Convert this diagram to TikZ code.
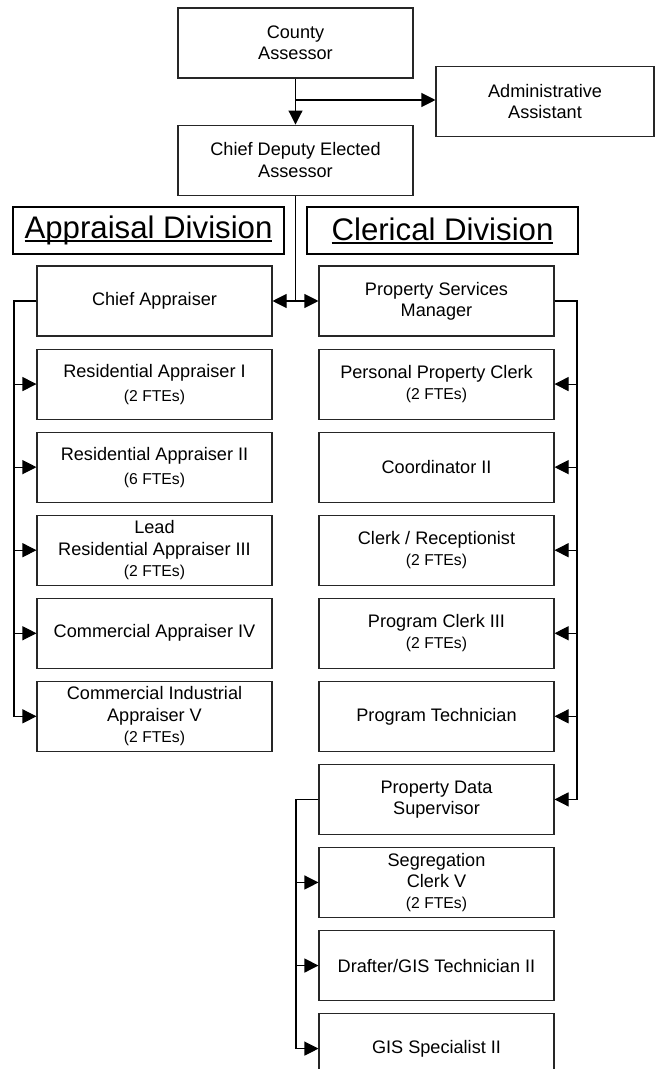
\documentclass[tikz,border=0pt]{standalone}
\usepackage{fontspec}
\setmainfont{Liberation Sans}
\usetikzlibrary{positioning,arrows.meta}

\newcommand\divtitle[1]{\setbox0\hbox{#1}\rlap{\rule[-2.6pt]{\wd0}{1.3pt}}\box0}
\newcommand\ftes[1]{{\fontsize{11.8}{14}\selectfont(#1 FTEs)}}

\begin{document}
\begin{tikzpicture}[x=0.75pt,y=-0.75pt,post/.style={draw=black!85, line width=0.8pt, minimum width=176.25pt, minimum height=52.5pt, align=center, inner sep=2pt, font=\fontsize{13.6}{16}\selectfont},divhead/.style={draw, line width=1.5pt, minimum width=203.25pt, minimum height=35.25pt, inner sep=0pt, font=\fontsize{23.4}{26}\selectfont},link/.style={line width=0.8pt, -{Triangle[length=10.5pt,width=10.5pt]}},bus/.style={line width=0.8pt}]
\useasboundingbox (0,0) rectangle (658,1069);
\node[post] (ca) at (295.5,43) {County\\Assessor};
\node[post, minimum width=163.5pt] (aa) at (545,101.5) {Administrative\\Assistant};
\node[post, below=34.5pt of ca] (cd) {Chief Deputy Elected\\Assessor};
\node[divhead] (apph) at (148.5,230.5) {\divtitle{Appraisal Division}};
\node[divhead] (clh) at (442.5,230.5) {\divtitle{Clerical Division}};
% appraisal side
\node[post] (cap) at (154.5,301) {Chief Appraiser};
\node[post, below=9pt of cap] (ra1) {Residential Appraiser I\\[2pt]\ftes{2}};
\node[post, below=9pt of ra1] (ra2) {Residential Appraiser II\\[2pt]\ftes{6}};
\node[post, below=9pt of ra2] (lra3) {Lead\\Residential Appraiser III\\\ftes{2}};
\node[post, below=9pt of lra3] (ca4) {Commercial Appraiser IV};
\node[post, below=9pt of ca4] (cia5) {Commercial Industrial\\Appraiser V\\\ftes{2}};
% clerical side
\node[post] (psm) at (436.5,301) {Property Services\\Manager};
\node[post, below=9pt of psm] (ppc) {Personal Property Clerk\\\ftes{2}};
\node[post, below=9pt of ppc] (co2) {Coordinator II};
\node[post, below=9pt of co2] (crc) {Clerk / Receptionist\\\ftes{2}};
\node[post, below=9pt of crc] (pc3) {Program Clerk III\\\ftes{2}};
\node[post, below=9pt of pc3] (pt) {Program Technician};
\node[post, below=9pt of pt] (pds) {Property Data\\Supervisor};
\node[post, below=9pt of pds] (sc5) {Segregation\\Clerk V\\\ftes{2}};
\node[post, below=9pt of sc5] (dgt) {Drafter/GIS Technician II};
\node[post, below=9pt of dgt] (gis) {GIS Specialist II};
\coordinate (lbus) at (14,0);
\coordinate (rbus) at (577,0);
\coordinate (sbus) at (296,0);
\coordinate (aasplit) at (ca.south |- 0,100);
\coordinate (divsplit) at (cd.south |- cap.east);
\draw[link] (ca) -- (cd);
\draw[link] (aasplit) -- (aasplit -| aa.west);
\draw[bus] (cd) -- (divsplit);
\draw[link] (divsplit) -- (cap);
\draw[link] (divsplit) -- (psm);
\foreach \n in {ra1,ra2,lra3,ca4,cia5}
  \draw[link] (cap.west) -- (lbus |- cap.west) |- (\n.west);
\foreach \n in {ppc,co2,crc,pc3,pt,pds}
  \draw[link] (psm.east) -- (rbus |- psm.east) |- (\n.east);
\foreach \n in {sc5,dgt,gis}
  \draw[link] (pds.west) -- (sbus |- pds.west) |- (\n.west);
\end{tikzpicture}
\end{document}
